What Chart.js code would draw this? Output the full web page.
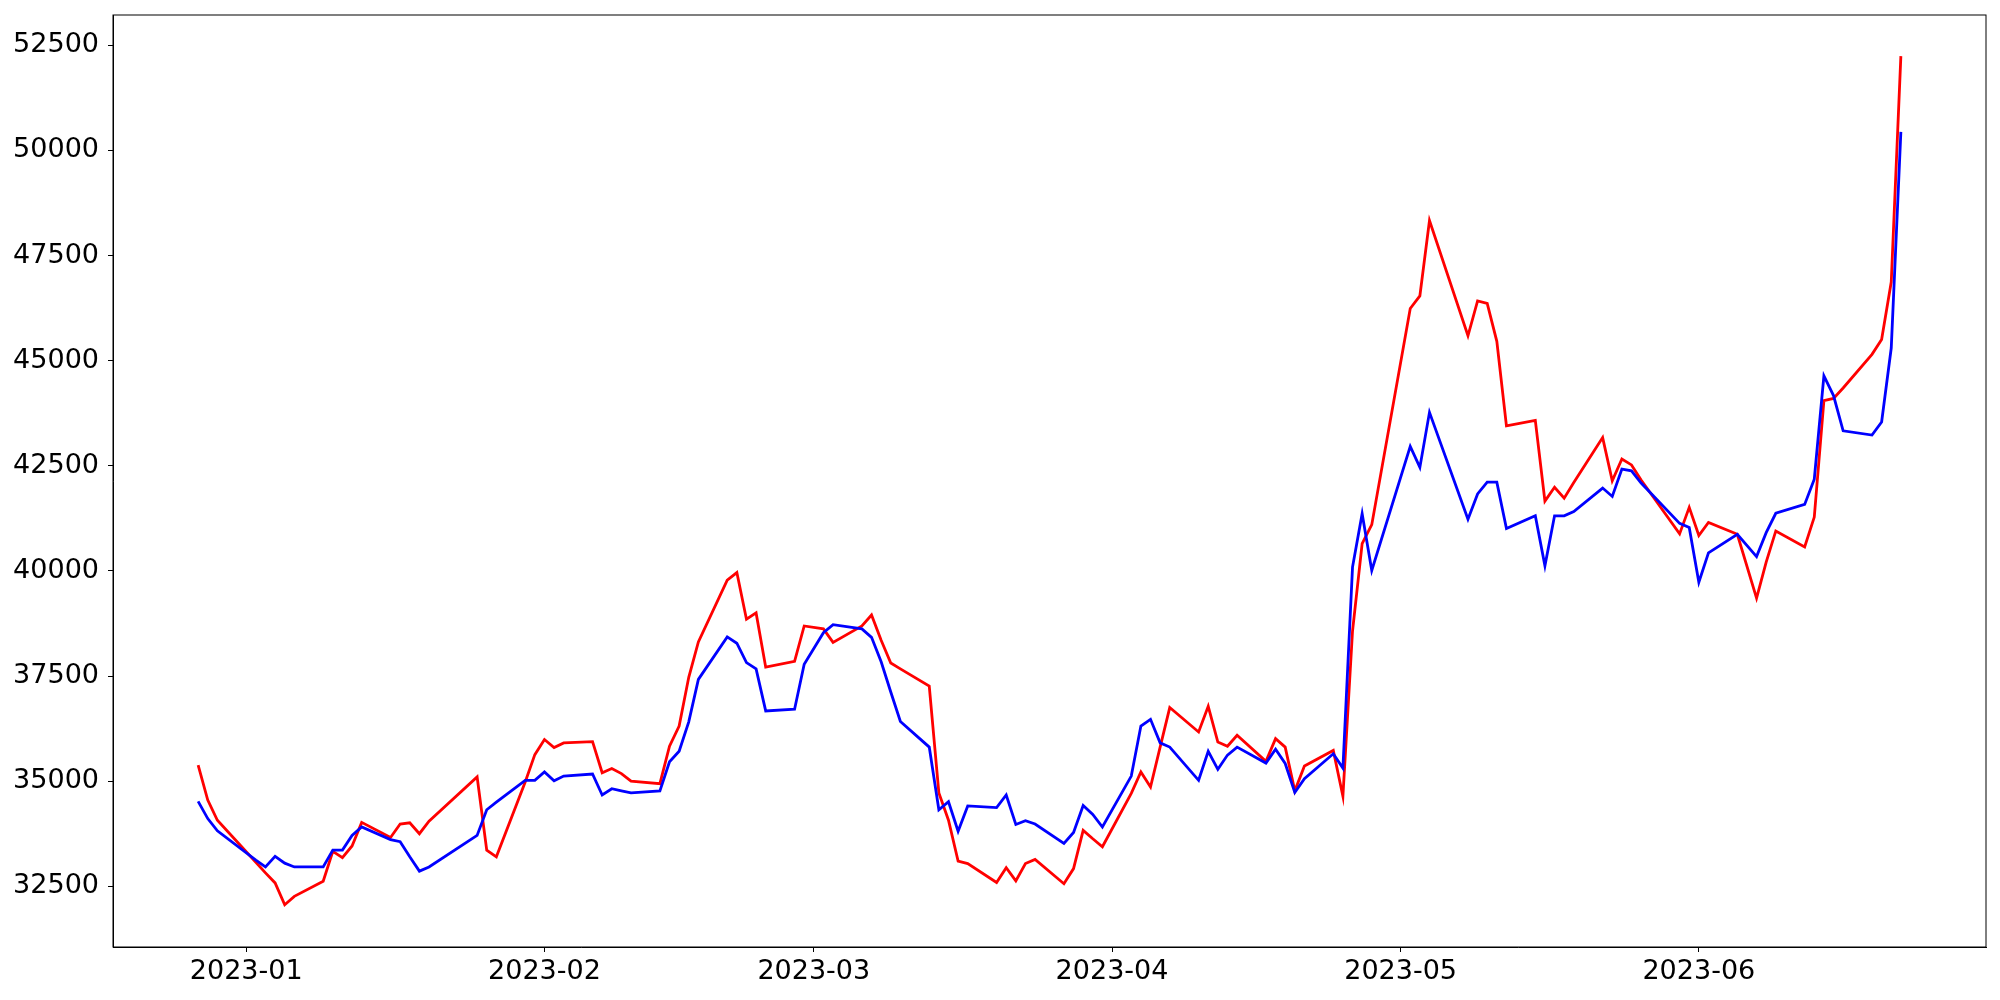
<!DOCTYPE html>
<html>
<head>
<meta charset="utf-8">
<script src="https://cdn.jsdelivr.net/npm/chart.js@4.4.0/dist/chart.umd.min.js"></script>
<style>
  html, body { margin: 0; padding: 0; background: #fff; }
  #wrap { width: 2000px; height: 1000px; }
</style>
</head>
<body>
<div id="wrap"><canvas id="priceChart" width="2000" height="1000"></canvas></div>
<script>
// trading days (gaps = weekends / holidays)
const dates = [
  "2022-12-27", "2022-12-28", "2022-12-29",
  "2023-01-02", "2023-01-03", "2023-01-04", "2023-01-05", "2023-01-06",
  "2023-01-09", "2023-01-10", "2023-01-11", "2023-01-12", "2023-01-13",
  "2023-01-16", "2023-01-17", "2023-01-18", "2023-01-19", "2023-01-20",
  "2023-01-25", "2023-01-26", "2023-01-27", "2023-01-30", "2023-01-31",
  "2023-02-01", "2023-02-02", "2023-02-03", "2023-02-06", "2023-02-07",
  "2023-02-08", "2023-02-09", "2023-02-10", "2023-02-13", "2023-02-14",
  "2023-02-15", "2023-02-16", "2023-02-17", "2023-02-20", "2023-02-21",
  "2023-02-22", "2023-02-23", "2023-02-24", "2023-02-27", "2023-02-28",
  "2023-03-02", "2023-03-03", "2023-03-06", "2023-03-07", "2023-03-08",
  "2023-03-09", "2023-03-10", "2023-03-13", "2023-03-14", "2023-03-15",
  "2023-03-16", "2023-03-17", "2023-03-20", "2023-03-21", "2023-03-22",
  "2023-03-23", "2023-03-24", "2023-03-27", "2023-03-28", "2023-03-29",
  "2023-03-30", "2023-03-31",
  "2023-04-03", "2023-04-04", "2023-04-05", "2023-04-06", "2023-04-07",
  "2023-04-10", "2023-04-11", "2023-04-12", "2023-04-13", "2023-04-14",
  "2023-04-17", "2023-04-18", "2023-04-19", "2023-04-20", "2023-04-21",
  "2023-04-24", "2023-04-25", "2023-04-26", "2023-04-27", "2023-04-28",
  "2023-05-02", "2023-05-03", "2023-05-04", "2023-05-08", "2023-05-09",
  "2023-05-10", "2023-05-11", "2023-05-12", "2023-05-15", "2023-05-16",
  "2023-05-17", "2023-05-18", "2023-05-19", "2023-05-22", "2023-05-23",
  "2023-05-24", "2023-05-25", "2023-05-26", "2023-05-30", "2023-05-31",
  "2023-06-01", "2023-06-02", "2023-06-05", "2023-06-07", "2023-06-08",
  "2023-06-09", "2023-06-12", "2023-06-13", "2023-06-14", "2023-06-15",
  "2023-06-16", "2023-06-19", "2023-06-20", "2023-06-21", "2023-06-22",
];

// red line
const redValues = [
  35380, 34550, 34070,
  33070, 32820, 32580, 32060, 32260, 32620, 33330, 33180, 33460, 34020,
  33660, 33980, 34010, 33750, 34050, 35100, 33360, 33200, 34980, 35630,
  35990, 35800, 35910, 35940, 35200, 35300, 35180, 35000, 34940, 35830,
  36310, 37470, 38310, 39780, 39960, 38850, 39000, 37710, 37850, 38690,
  38620, 38300, 38690, 38950, 38350, 37810, 37670, 37260, 34720, 34070,
  33100, 33040, 32590, 32940, 32630, 33040, 33140, 32560, 32920, 33830,
  33630, 33440,
  34710, 35220, 34860, 35810, 36750, 36170, 36780, 35930, 35830, 36090,
  35470, 36010, 35810, 34770, 35360, 35730, 34640, 38570, 40650, 41100,
  46240, 46540, 48330, 45590, 46420, 46360, 45460, 43450, 43580, 41660,
  41990, 41730, 42100, 43170, 42140, 42660, 42520, 42160, 40880, 41510,
  40840, 41150, 40870, 39350, 40210, 40950, 40570, 41280, 44050, 44100,
  44350, 45150, 45500, 46870, 52240,
];

// blue line
const blueValues = [
  34520, 34110, 33820,
  33120, 32960, 33210, 33050, 32960, 32960, 33360, 33360, 33710, 33910,
  33610, 33560, 33200, 32860, 32960, 33710, 34320, 34500, 35020, 35020,
  35220, 35010, 35120, 35170, 34670, 34820, 34770, 34720, 34770, 35460,
  35710, 36410, 37420, 38430, 38280, 37820, 37670, 36670, 36710, 37780,
  38530, 38720, 38620, 38420, 37840, 37120, 36420, 35810, 34320, 34510,
  33810, 34410, 34370, 34670, 33970, 34060, 33980, 33520, 33780, 34420,
  34210, 33910,
  35120, 36310, 36470, 35910, 35810, 35020, 35710, 35280, 35620, 35810,
  35430, 35760, 35420, 34730, 35060, 35650, 35310, 40090, 41360, 40010,
  42960, 42460, 43770, 41230, 41830, 42110, 42110, 41010, 41310, 40120,
  41310, 41310, 41410, 41970, 41770, 42420, 42380, 42090, 41130, 41030,
  39730, 40430, 40870, 40340, 40910, 41370, 41580, 42180, 44640, 44170,
  43330, 43230, 43540, 45300, 50440,
];

const monthTicks = ["2023-01-01", "2023-02-01", "2023-03-01", "2023-04-01", "2023-05-01", "2023-06-01"];
const monthLabels = ["2023-01", "2023-02", "2023-03", "2023-04", "2023-05", "2023-06"];
const yTicks = [32500, 35000, 37500, 40000, 42500, 45000, 47500, 50000, 52500];

const dayZero = Date.UTC(2023, 0, 1);
const toDay = (s) => (Date.parse(s) - dayZero) / 86400000;
const tickDays = monthTicks.map(toDay);

const frame = {
  id: "frame",
  afterDraw(chart) {
    const { ctx, chartArea: { left, top, right, bottom } } = chart;
    ctx.save();
    ctx.strokeStyle = "#000";
    ctx.lineWidth = 1;
    ctx.strokeRect(left, top, right - left, bottom - top);
    ctx.restore();
  },
};

const tickFont = { family: "'DejaVu Sans'", size: 27 };

const config = {
  type: "line",
  data: {
    datasets: [
      {
        label: "red",
        data: dates.map((d, i) => ({ x: toDay(d), y: redValues[i] })),
        borderColor: "#ff0000",
        borderWidth: 2.8,
        pointRadius: 0,
        tension: 0,
        order: 1,
      },
      {
        label: "blue",
        data: dates.map((d, i) => ({ x: toDay(d), y: blueValues[i] })),
        borderColor: "#0000ff",
        borderWidth: 2.8,
        pointRadius: 0,
        tension: 0,
        order: 0,
      },
    ],
  },
  options: {
    responsive: false,
    animation: false,
    devicePixelRatio: 1,
    layout: { padding: { top: 15, right: 14, left: 0, bottom: 0 } },
    plugins: {
      legend: { display: false },
      tooltip: { enabled: false },
    },
    scales: {
      x: {
        type: "linear",
        min: -13.85,
        max: 180.85,
        afterBuildTicks: (scale) => {
          scale.ticks = tickDays.map((v) => ({ value: v }));
        },
        afterFit: (scale) => {
          scale.height = 53;
          scale.paddingLeft = 0;
          scale.paddingRight = 0;
        },
        ticks: {
          autoSkip: false,
          maxRotation: 0,
          color: "#000",
          font: tickFont,
          padding: 4,
          callback: (value) => monthLabels[tickDays.indexOf(value)],
        },
        grid: { drawOnChartArea: false, tickLength: 5, tickColor: "#000" },
        border: { display: true, color: "#000", width: 1 },
      },
      y: {
        min: 31056,
        max: 53219,
        afterBuildTicks: (scale) => {
          scale.ticks = yTicks.map((v) => ({ value: v }));
        },
        afterFit: (scale) => {
          scale.width = 113;
          scale.paddingTop = 0;
          scale.paddingBottom = 0;
        },
        ticks: {
          color: "#000",
          font: tickFont,
          padding: 9,
          callback: (value) => String(value),
        },
        grid: { drawOnChartArea: false, tickLength: 5, tickColor: "#000" },
        border: { display: true, color: "#000", width: 1 },
      },
    },
  },
  plugins: [frame],
};

new Chart(document.getElementById("priceChart"), config);
</script>
</body>
</html>
